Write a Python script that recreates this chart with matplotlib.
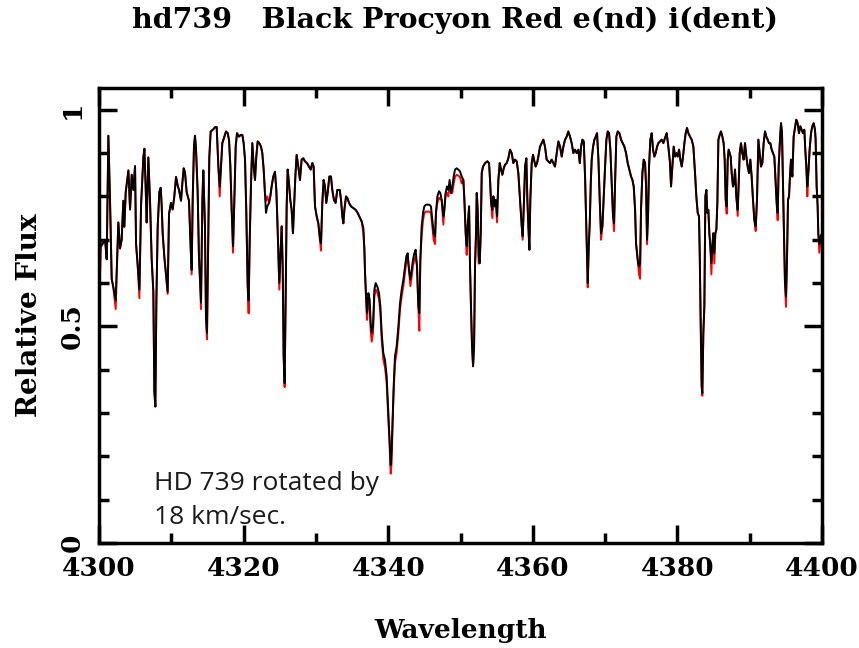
import numpy as np
import matplotlib
matplotlib.use("Agg")
import matplotlib.pyplot as plt
from matplotlib.ticker import MultipleLocator, FixedLocator

# Spectrum of HD 739 (black), traced in six wavelength chunks
wl_1 = [4300.00, 4300.28, 4300.83, 4301.06, 4301.29, 4301.52, 4301.75, 4301.98, 4302.30, 4302.67,
        4302.90, 4303.13, 4303.36, 4303.50, 4303.69, 4304.06, 4304.29, 4304.52, 4304.75, 4304.98,
        4305.12, 4305.35, 4305.58, 4305.81, 4306.13, 4306.27, 4306.45, 4306.59, 4306.82, 4307.05,
        4307.28, 4307.51, 4307.65, 4307.79, 4307.93, 4308.11, 4308.34, 4308.53, 4308.66, 4308.80,
        4309.03, 4309.26, 4309.49, 4309.68, 4309.95, 4310.18, 4310.41, 4310.65, 4310.88, 4311.06,
        4311.34, 4311.52, 4311.71, 4311.89, 4312.12, 4312.44, 4312.67, 4312.81, 4312.95, 4313.13,
        4313.27, 4313.41, 4313.64, 4313.82, 4314.01, 4314.10, 4314.29, 4314.42, 4314.65, 4314.79,
        4314.93, 4315.12, 4315.25, 4315.44, 4315.81, 4316.04, 4316.27]
fx_1 = [0.715, 0.685, 0.70, 0.655, 0.94, 0.79, 0.61, 0.59, 0.56, 0.74,
        0.68, 0.70, 0.79, 0.73, 0.81, 0.86, 0.77, 0.85, 0.815, 0.87,
        0.69, 0.64, 0.585, 0.78, 0.89, 0.91, 0.82, 0.74, 0.89, 0.79,
        0.655, 0.58, 0.35, 0.315, 0.56, 0.73, 0.81, 0.82, 0.78, 0.715,
        0.66, 0.62, 0.58, 0.76, 0.785, 0.77, 0.80, 0.845, 0.825, 0.815,
        0.79, 0.83, 0.865, 0.855, 0.81, 0.79, 0.68, 0.63, 0.79, 0.915,
        0.94, 0.91, 0.81, 0.66, 0.59, 0.555, 0.79, 0.86, 0.73, 0.52,
        0.485, 0.72, 0.89, 0.95, 0.955, 0.96, 0.96]

wl_2 = [4316.50, 4316.69, 4316.87, 4317.05, 4317.33, 4317.56, 4317.79, 4317.98, 4318.16, 4318.34,
        4318.53, 4318.71, 4318.90, 4319.08, 4319.36, 4319.59, 4319.82, 4320.00, 4320.19, 4320.37,
        4320.56, 4320.69, 4320.83, 4321.02, 4321.20, 4321.39, 4321.57, 4321.75, 4321.94, 4322.17,
        4322.40, 4322.58, 4322.77, 4322.95, 4323.09, 4323.27, 4323.51, 4323.69, 4323.87, 4324.10,
        4324.33, 4324.52, 4324.66, 4324.80, 4324.93, 4325.12, 4325.26, 4325.40, 4325.53, 4325.67,
        4325.81, 4325.95, 4326.09, 4326.27, 4326.45, 4326.64, 4326.82, 4327.01, 4327.15, 4327.33,
        4327.56, 4327.79, 4328.02, 4328.25, 4328.48, 4328.76, 4329.04, 4329.27, 4329.50, 4329.68,
        4329.87, 4330.10, 4330.33, 4330.56, 4330.69, 4330.88, 4331.06, 4331.25, 4331.43, 4331.62,
        4331.85, 4332.08, 4332.26, 4332.49, 4332.72, 4332.95, 4333.18]
fx_2 = [0.87, 0.823, 0.87, 0.923, 0.938, 0.95, 0.946, 0.93, 0.87, 0.77,
        0.685, 0.79, 0.915, 0.946, 0.938, 0.942, 0.942, 0.923, 0.885, 0.762,
        0.592, 0.56, 0.692, 0.831, 0.923, 0.87, 0.838, 0.892, 0.927, 0.923,
        0.915, 0.90, 0.862, 0.808, 0.762, 0.777, 0.785, 0.80, 0.823, 0.846,
        0.857, 0.815, 0.746, 0.669, 0.60, 0.677, 0.731, 0.638, 0.431, 0.369,
        0.562, 0.777, 0.862, 0.831, 0.792, 0.769, 0.715, 0.792, 0.846, 0.896,
        0.869, 0.838, 0.885, 0.888, 0.881, 0.877, 0.869, 0.862, 0.877, 0.869,
        0.777, 0.754, 0.738, 0.70, 0.692, 0.785, 0.838, 0.823, 0.785, 0.808,
        0.846, 0.846, 0.815, 0.792, 0.785, 0.815, 0.815]

wl_3 = [4333.29, 4333.47, 4333.65, 4333.79, 4333.93, 4334.16, 4334.35, 4334.58, 4334.85, 4335.17,
        4335.50, 4335.77, 4336.10, 4336.33, 4336.56, 4336.70, 4336.79, 4336.93, 4337.06, 4337.25,
        4337.43, 4337.57, 4337.71, 4337.89, 4338.08, 4338.26, 4338.49, 4338.72, 4338.91, 4339.09,
        4339.32, 4339.55, 4339.78, 4339.97, 4340.15, 4340.34, 4340.47, 4340.61, 4340.75, 4340.93,
        4341.16, 4341.40, 4341.63, 4341.86, 4342.09, 4342.32, 4342.50, 4342.69, 4342.87, 4343.06,
        4343.24, 4343.42, 4343.61, 4343.79, 4343.98, 4344.16, 4344.30, 4344.44, 4344.62, 4344.81,
        4344.99, 4345.22, 4345.45, 4345.68, 4345.91, 4346.10, 4346.28, 4346.47, 4346.60, 4346.79,
        4347.02, 4347.20, 4347.39, 4347.62, 4347.76, 4347.94, 4348.12, 4348.31, 4348.49, 4348.68,
        4348.86, 4349.05, 4349.23, 4349.46, 4349.69, 4349.92]
fx_3 = [0.815, 0.792, 0.754, 0.738, 0.769, 0.80, 0.796, 0.785, 0.777, 0.773,
        0.769, 0.762, 0.75, 0.742, 0.727, 0.677, 0.623, 0.569, 0.531, 0.577,
        0.562, 0.508, 0.485, 0.50, 0.585, 0.60, 0.592, 0.577, 0.546, 0.485,
        0.438, 0.423, 0.385, 0.315, 0.254, 0.18, 0.215, 0.292, 0.362, 0.431,
        0.454, 0.50, 0.554, 0.585, 0.608, 0.638, 0.662, 0.669, 0.631, 0.608,
        0.631, 0.654, 0.669, 0.677, 0.638, 0.546, 0.531, 0.654, 0.731, 0.762,
        0.777, 0.781, 0.781, 0.781, 0.777, 0.746, 0.715, 0.708, 0.762, 0.80,
        0.812, 0.808, 0.792, 0.754, 0.769, 0.808, 0.823, 0.815, 0.838, 0.808,
        0.823, 0.846, 0.862, 0.865, 0.862, 0.858]

wl_4 = [4350.16, 4350.39, 4350.53, 4350.71, 4350.85, 4350.99, 4351.18, 4351.31, 4351.45, 4351.59,
        4351.73, 4351.87, 4352.00, 4352.14, 4352.24, 4352.37, 4352.51, 4352.65, 4352.79, 4352.93,
        4353.11, 4353.39, 4353.71, 4353.94, 4354.08, 4354.22, 4354.40, 4354.54, 4354.68, 4354.86,
        4355.05, 4355.23, 4355.42, 4355.60, 4355.78, 4355.97, 4356.15, 4356.38, 4356.61, 4356.84,
        4357.07, 4357.30, 4357.53, 4357.77, 4357.99, 4358.23, 4358.46, 4358.59, 4358.78, 4358.92,
        4359.10, 4359.24, 4359.38, 4359.52, 4359.65, 4359.84, 4360.02, 4360.21, 4360.39, 4360.58,
        4360.76, 4360.99, 4361.22, 4361.45, 4361.68, 4361.91, 4362.14, 4362.37, 4362.60, 4362.83,
        4363.06, 4363.30, 4363.53, 4363.76, 4363.99, 4364.22, 4364.45, 4364.68, 4364.91, 4365.14,
        4365.37, 4365.60, 4365.83, 4366.06, 4366.29]
fx_4 = [0.846, 0.838, 0.792, 0.715, 0.685, 0.731, 0.777, 0.638, 0.546, 0.454,
        0.408, 0.454, 0.638, 0.715, 0.808, 0.769, 0.662, 0.646, 0.715, 0.854,
        0.869, 0.877, 0.881, 0.877, 0.838, 0.785, 0.769, 0.80, 0.777, 0.792,
        0.754, 0.838, 0.877, 0.862, 0.85, 0.865, 0.873, 0.877, 0.888, 0.908,
        0.90, 0.877, 0.885, 0.881, 0.854, 0.792, 0.731, 0.708, 0.792, 0.869,
        0.888, 0.792, 0.731, 0.677, 0.792, 0.877, 0.896, 0.881, 0.869, 0.877,
        0.892, 0.915, 0.923, 0.931, 0.915, 0.885, 0.881, 0.877, 0.885, 0.877,
        0.869, 0.90, 0.927, 0.915, 0.892, 0.915, 0.931, 0.938, 0.95, 0.938,
        0.923, 0.90, 0.908, 0.90, 0.908]

wl_5 = [4366.49, 4366.67, 4366.85, 4367.04, 4367.22, 4367.36, 4367.50, 4367.59, 4367.73, 4367.87,
        4368.01, 4368.14, 4368.33, 4368.51, 4368.70, 4368.88, 4369.07, 4369.25, 4369.43, 4369.62,
        4369.80, 4369.99, 4370.17, 4370.36, 4370.54, 4370.72, 4370.91, 4371.09, 4371.23, 4371.37,
        4371.55, 4371.74, 4371.97, 4372.20, 4372.43, 4372.66, 4372.89, 4373.12, 4373.35, 4373.58,
        4373.77, 4373.95, 4374.14, 4374.27, 4374.41, 4374.55, 4374.69, 4374.83, 4374.96, 4375.15,
        4375.33, 4375.52, 4375.66, 4375.79, 4375.93, 4376.07, 4376.25, 4376.44, 4376.62, 4376.81,
        4376.99, 4377.18, 4377.36, 4377.59, 4377.82, 4378.05, 4378.28, 4378.51, 4378.74, 4378.97,
        4379.11, 4379.30, 4379.48, 4379.67, 4379.85, 4380.03, 4380.22, 4380.40, 4380.59, 4380.77,
        4380.96, 4381.14, 4381.32, 4381.51, 4381.74, 4381.97, 4382.20, 4382.43, 4382.61, 4382.80,
        4382.98]
fx_5 = [0.877, 0.915, 0.931, 0.927, 0.846, 0.754, 0.654, 0.60, 0.685, 0.738,
        0.831, 0.885, 0.915, 0.931, 0.938, 0.946, 0.885, 0.792, 0.715, 0.731,
        0.80, 0.869, 0.931, 0.95, 0.946, 0.908, 0.831, 0.754, 0.738, 0.831,
        0.938, 0.95, 0.946, 0.931, 0.923, 0.915, 0.90, 0.877, 0.862, 0.846,
        0.838, 0.823, 0.769, 0.692, 0.669, 0.646, 0.638, 0.646, 0.769, 0.854,
        0.885, 0.877, 0.823, 0.70, 0.754, 0.869, 0.931, 0.946, 0.908, 0.892,
        0.90, 0.915, 0.923, 0.927, 0.931, 0.923, 0.935, 0.946, 0.915, 0.877,
        0.823, 0.869, 0.915, 0.892, 0.90, 0.892, 0.908, 0.885, 0.869, 0.892,
        0.923, 0.946, 0.958, 0.946, 0.938, 0.931, 0.915, 0.854, 0.80, 0.762,
        0.754]

wl_6 = [4383.08, 4383.17, 4383.26, 4383.35, 4383.44, 4383.58, 4383.72, 4383.86, 4384.00, 4384.13,
        4384.27, 4384.41, 4384.55, 4384.69, 4384.83, 4384.96, 4385.10, 4385.24, 4385.38, 4385.52,
        4385.66, 4385.84, 4386.02, 4386.21, 4386.39, 4386.53, 4386.67, 4386.81, 4386.95, 4387.08,
        4387.22, 4387.36, 4387.50, 4387.68, 4387.82, 4387.96, 4388.14, 4388.33, 4388.47, 4388.61,
        4388.79, 4388.97, 4389.16, 4389.34, 4389.53, 4389.71, 4389.90, 4390.08, 4390.26, 4390.45,
        4390.63, 4390.82, 4391.00, 4391.19, 4391.37, 4391.55, 4391.74, 4391.92, 4392.11, 4392.29,
        4392.48, 4392.66, 4392.84, 4393.03, 4393.21, 4393.40, 4393.58, 4393.72, 4393.86, 4394.00,
        4394.18, 4394.32, 4394.46, 4394.60, 4394.73, 4394.87, 4395.01, 4395.15, 4395.29, 4395.43,
        4395.56, 4395.70, 4395.89, 4396.07, 4396.25, 4396.44, 4396.62, 4396.81, 4396.99, 4397.18,
        4397.36, 4397.55, 4397.68, 4397.82, 4397.96, 4398.10, 4398.28, 4398.47, 4398.65, 4398.84,
        4399.02, 4399.11, 4399.25, 4399.39, 4399.48, 4399.62, 4399.85]
fx_6 = [0.669, 0.562, 0.438, 0.362, 0.346, 0.485, 0.546, 0.80, 0.815, 0.762,
        0.769, 0.715, 0.685, 0.646, 0.685, 0.715, 0.669, 0.715, 0.723, 0.785,
        0.931, 0.942, 0.95, 0.938, 0.923, 0.885, 0.792, 0.777, 0.885, 0.908,
        0.90, 0.892, 0.854, 0.823, 0.831, 0.862, 0.80, 0.769, 0.831, 0.90,
        0.923, 0.90, 0.885, 0.923, 0.892, 0.869, 0.854, 0.885, 0.846, 0.792,
        0.746, 0.731, 0.792, 0.931, 0.90, 0.869, 0.877, 0.923, 0.95, 0.938,
        0.931, 0.923, 0.923, 0.908, 0.90, 0.892, 0.831, 0.785, 0.762, 0.869,
        0.931, 0.969, 0.946, 0.823, 0.715, 0.60, 0.569, 0.654, 0.792, 0.80,
        0.846, 0.885, 0.846, 0.938, 0.958, 0.977, 0.969, 0.946, 0.962, 0.954,
        0.946, 0.954, 0.908, 0.869, 0.823, 0.854, 0.908, 0.946, 0.962, 0.969,
        0.954, 0.931, 0.823, 0.777, 0.715, 0.69, 0.71]

# Procyon (red): same sampling, differs only in the line cores and the H-gamma wings
red_wl = [4300.00, 4302.30, 4305.58, 4309.49, 4312.81, 4314.10, 4314.93, 4316.69, 4318.53, 4320.69,
          4323.09, 4323.27, 4324.93, 4325.67, 4330.69, 4336.56, 4337.06, 4337.25, 4337.43, 4337.57,
          4337.71, 4337.89, 4338.08, 4338.26, 4338.49, 4338.72, 4338.91, 4339.09, 4339.32, 4339.55,
          4339.78, 4339.97, 4340.15, 4340.34, 4340.47, 4340.61, 4340.75, 4340.93, 4341.16, 4341.40,
          4341.63, 4341.86, 4342.09, 4342.32, 4342.50, 4342.69, 4343.06, 4343.24, 4343.42, 4343.61,
          4343.79, 4344.30, 4344.62, 4344.81, 4344.99, 4345.22, 4345.45, 4345.68, 4345.91, 4346.10,
          4346.28, 4346.47, 4346.79, 4347.02, 4347.20, 4347.62, 4348.12, 4348.31, 4348.49, 4348.86,
          4349.05, 4349.23, 4349.46, 4349.69, 4349.92, 4350.16, 4350.85, 4351.45, 4352.51, 4354.40,
          4355.05, 4358.59, 4367.59, 4369.43, 4371.23, 4374.69, 4374.83, 4375.79, 4383.17, 4383.44,
          4384.69, 4385.10, 4386.81, 4388.33, 4390.82, 4393.86, 4395.01, 4397.96, 4399.62]
red_fx = [0.56, 0.54, 0.565, 0.575, 0.62, 0.54, 0.47, 0.80, 0.67, 0.53,
          0.79, 0.80, 0.585, 0.36, 0.675, 0.715, 0.515, 0.56, 0.545, 0.49,
          0.465, 0.485, 0.57, 0.585, 0.578, 0.563, 0.532, 0.47, 0.423, 0.405,
          0.37, 0.30, 0.24, 0.16, 0.185, 0.28, 0.35, 0.415, 0.44, 0.485,
          0.54, 0.57, 0.593, 0.625, 0.65, 0.655, 0.593, 0.615, 0.64, 0.655,
          0.66, 0.49, 0.71, 0.745, 0.762, 0.765, 0.765, 0.765, 0.762, 0.73,
          0.70, 0.69, 0.785, 0.797, 0.793, 0.735, 0.808, 0.80, 0.825, 0.808,
          0.83, 0.845, 0.85, 0.848, 0.845, 0.83, 0.665, 0.53, 0.645, 0.75,
          0.74, 0.70, 0.59, 0.70, 0.72, 0.62, 0.61, 0.69, 0.54, 0.34,
          0.62, 0.645, 0.76, 0.755, 0.72, 0.745, 0.545, 0.80, 0.67]

title = "hd739   Black Procyon Red e(nd) i(dent)"
note = "HD 739 rotated by\n18 km/sec."

wave = np.concatenate([wl_1, wl_2, wl_3, wl_4, wl_5, wl_6])
flux_black = np.concatenate([fx_1, fx_2, fx_3, fx_4, fx_5, fx_6])
flux_red = flux_black.copy()
flux_red[np.searchsorted(wave, red_wl)] = red_fx

serif = dict(family="DejaVu Serif", weight="bold")

fig = plt.figure(figsize=(8.59, 6.48), dpi=100)
ax = fig.add_axes([0.1153, 0.162, 0.8417, 0.702])

ax.plot(wave, flux_red, color="red", lw=1.4)
ax.plot(wave, flux_black, color="black", lw=1.4)

ax.set_xlim(4300, 4400)
ax.set_ylim(0, 1.05)

ax.xaxis.set_major_locator(MultipleLocator(20))
ax.xaxis.set_minor_locator(MultipleLocator(10))
ax.yaxis.set_major_locator(FixedLocator([0, 0.5, 1]))
ax.yaxis.set_minor_locator(MultipleLocator(0.1))
ax.set_yticklabels(["0", "0.5", "1"])

ax.tick_params(which="both", direction="in", top=True, right=True, width=2.5)
ax.tick_params(which="major", length=13)
ax.tick_params(which="minor", length=7)
ax.tick_params(axis="x", pad=9)
ax.tick_params(axis="y", pad=10)
for lab in ax.get_xticklabels() + ax.get_yticklabels():
    lab.set_fontfamily("DejaVu Serif")
    lab.set_fontweight("bold")
    lab.set_fontsize(19)
for lab in ax.get_yticklabels():
    lab.set_rotation(90)
    lab.set_va("center")
for sp in ax.spines.values():
    sp.set_linewidth(2.5)

ax.set_xlabel("Wavelength", fontsize=19, labelpad=27, **serif)
ax.set_ylabel("Relative Flux", fontsize=20, labelpad=12, **serif)
fig.text(0.53, 0.968, title, ha="center", va="center", fontsize=20.5, **serif)

ax.text(4307.6, 0.03, note, fontsize=19, family="Open Sans",
        color="#1a1a1a", linespacing=1.45, va="bottom", ha="left")

fig.savefig("out.png", dpi=100, facecolor="white")
